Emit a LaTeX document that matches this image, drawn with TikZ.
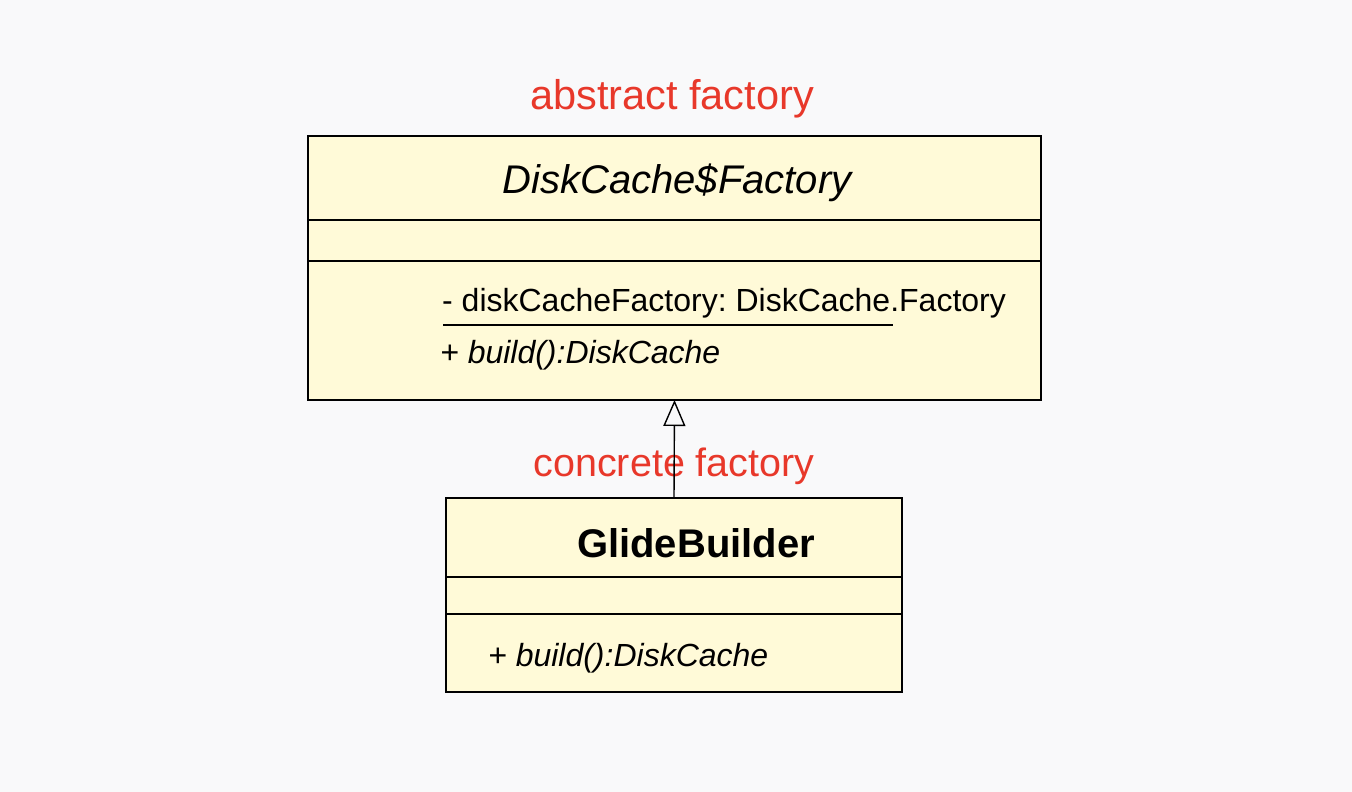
\documentclass[tikz,border=0pt]{standalone}
\usepackage{fontspec}
\setmainfont{Liberation Sans}
\usetikzlibrary{arrows.meta}
\definecolor{bgc}{RGB}{249,249,250}
\definecolor{boxfill}{RGB}{255,250,216}
\definecolor{redlbl}{RGB}{232,56,42}
\frenchspacing
\tikzset{
  umlbox/.style={draw=black, line width=1.4pt, fill=boxfill, rectangle, inner sep=0pt, outer sep=0pt},
  sepline/.style={draw=black, line width=1.4pt},
  redlabel/.style={text=redlbl, inner sep=0pt},
  memb/.style={inner sep=0pt, anchor=base west}
}
\begin{document}
\begin{tikzpicture}[x=1pt, y=-1pt]
\fill[bgc] (0,0) rectangle (1352,792);
\useasboundingbox (0,0) rectangle (1352,792);

% top class
\node[umlbox, minimum width=733pt, minimum height=264pt] (top) at (674.5,268) {};
\draw[sepline] (308,220) -- (1041,220);
\draw[sepline] (308,261) -- (1041,261);
\node[inner sep=0pt, anchor=base, font=\fontsize{40}{48}\selectfont\itshape] (topname) at (677,193) {DiskCache\$Factory};
\node[memb, font=\fontsize{32}{38}\selectfont] (attr) at (442,311) {- diskCacheFactory: DiskCache.Factory};
\draw[line width=1.2pt] (443,325) -- (893,325);
\node[memb, font=\fontsize{32}{38}\selectfont\itshape] (topop) at (440,363) {+ build():DiskCache};

% label abstract
\node[redlabel, anchor=base, font=\fontsize{41.5}{48}\selectfont] (abs) at (672,110) {abstract factory};

% bottom class
\node[umlbox, minimum width=456pt, minimum height=194pt] (bot) at (674,595) {};
\draw[sepline] (446,577) -- (902,577);
\draw[sepline] (446,614) -- (902,614);
\node[inner sep=0pt, anchor=base, font=\fontsize{40}{48}\selectfont\bfseries] (botname) at (696,557) {GlideBuilder};
\node[memb, font=\fontsize{32}{38}\selectfont\itshape] (botop) at (488,666) {+ build():DiskCache};

% label concrete
\node[redlabel, anchor=base, font=\fontsize{39.5}{48}\selectfont] (conc) at (674,476) {concrete factory};

% generalization
\draw[draw=black, line width=1.4pt, -{Triangle[open, length=26pt, width=22pt, line width=1.4pt]}] (bot.north) -- (top.south);
\end{tikzpicture}
\end{document}
